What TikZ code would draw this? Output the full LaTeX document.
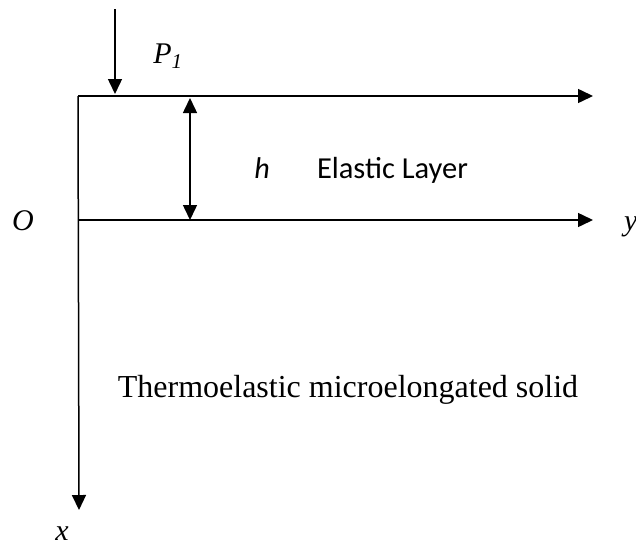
\documentclass[tikz,border=0pt]{standalone}
\usepackage{fontspec}
\setmainfont{Liberation Serif}
\newfontfamily\calib{Carlito}
\usetikzlibrary{arrows.meta}
\begin{document}
\begin{tikzpicture}[x=1pt,y=-1pt,
  axis/.style={line width=1.5pt,-{Triangle[length=15pt,width=14pt]}},
  dbl/.style={line width=1.5pt,{Triangle[length=15pt,width=14pt]}-{Triangle[length=15pt,width=14pt]}},
  lbl/.style={inner sep=0pt,anchor=base,font=\fontsize{30}{36}\selectfont\itshape},
  txt/.style={inner sep=0pt,anchor=base}]
\useasboundingbox (0,0) rectangle (636,546);
\coordinate (tl) at (78,96);
\coordinate (tr) at (593,96);
\coordinate (o) at (79,220);
\coordinate (yr) at (593,220);
\coordinate (xb) at (79,510);
\coordinate (ptop) at (115,9);
\coordinate (pbot) at (115,94);
\coordinate (htop) at (190,98);
\coordinate (hbot) at (190,220);
\draw[axis] (tl) -- (tr);
\draw[axis] (o) -- (yr);
\draw[axis] (78,96) -- (xb);
\draw[axis] (ptop) -- (pbot);
\draw[dbl] (htop) -- (hbot);
\node[lbl] (P) at (168,63) {P\textsubscript{1}};
\node[lbl] (O) at (23,230) {O};
\node[lbl,anchor=base west] (y) at (624,230) {y};
\node[lbl] (x) at (62,540) {x};
\node[txt,font=\calib\fontsize{30}{36}\selectfont\itshape] (h) at (262,178) {h};
\node[txt,font=\calib\fontsize{30.5}{36}\selectfont] (el) at (392.5,178) {Elastic Layer};
\node[txt,font=\fontsize{32}{38}\selectfont] (th) at (348,397) {Thermoelastic microelongated solid};
\end{tikzpicture}
\end{document}
